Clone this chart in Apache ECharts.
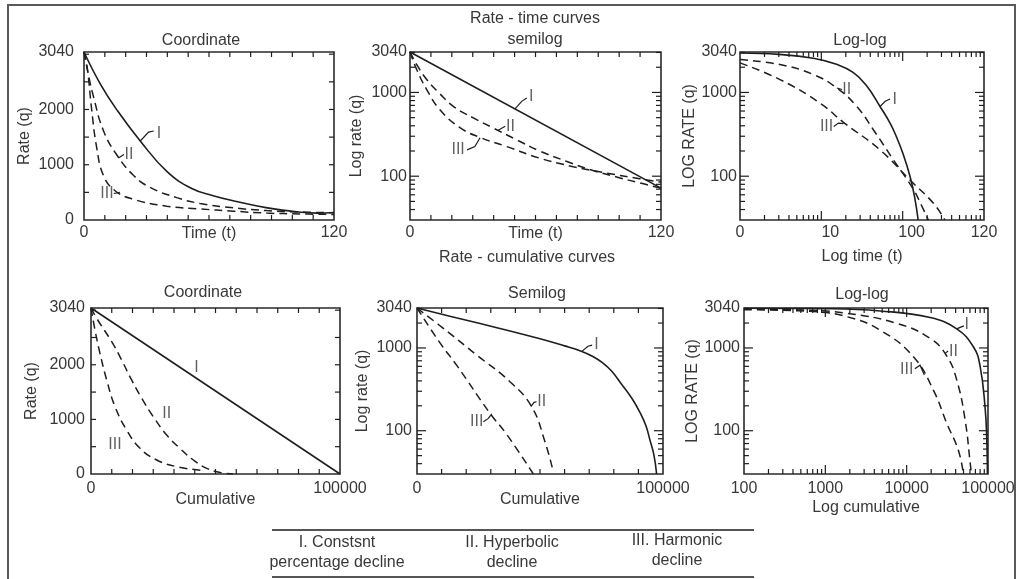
<!DOCTYPE html>
<html>
<head>
<meta charset="utf-8">
<script src="https://cdn.jsdelivr.net/npm/echarts@6/dist/echarts.min.js"></script>
<style>
  html, body { margin: 0; padding: 0; background: #fff; }
  #chart { width: 1024px; height: 579px; }
</style>
</head>
<body>
<div id="chart"></div>
<script>
// ---------- Rate - time curves: [time, rate] ----------
const rtCoordI   = [[0,3040],[8,2450],[16,1980],[27,1430],[40,870],[52,565],[62,440],[72,345],[88,220],[104,140],[112,125],[120,135]];
const rtCoordII  = [[0,3040],[2,2650],[4.5,2240],[9.3,1620],[15.7,1180],[23.7,810],[31.7,590],[44.5,405],[55.7,300],[71.7,220],[87.7,170],[104,145],[120,130]];
const rtCoordIII = [[0,3040],[1.6,2740],[3.7,1990],[6.1,1310],[9.3,810],[14.9,530],[23.7,375],[39.7,250],[55.7,200],[71.7,160],[87.7,125],[104,110],[120,100]];

const rtSemiI   = [[0,3040],[120,72]];
const rtSemiII  = [[0,3040],[3,2200],[8,1425],[14,980],[20.7,682],[30,500],[39.8,376],[50,280],[62,200],[75,150],[86,120],[100,96],[110,83],[120,72]];
const rtSemiIII = [[0,3040],[3.2,1877],[8,1081],[14.3,622],[23.9,380],[33.5,290],[46.2,226],[62.1,164],[78,130],[94,109],[107,96],[120,85]];

const rtLogI   = [[1,2960],[3,2850],[8,2560],[15,2180],[24.8,1720],[36,1200],[52.7,680],[70,430],[84.5,290],[100,190],[123,100],[140,57],[155,30]];
const rtLogII  = [[1,2470],[3.1,2150],[8,1633],[15.5,1131],[27.2,682],[43.6,359],[76.9,157],[135,70],[170,45],[207,30]];
const rtLogIII = [[1,2254],[3.1,1425],[9.6,748],[18.7,440],[52.7,206],[123,90],[239,47.5],[330,30]];

// ---------- Rate - cumulative curves: [cumulative, rate] ----------
const rcCoordI   = [[0,3040],[100000,0]];
const rcCoordII  = [[0,3040],[2290,2850],[8300,2423],[12300,2088],[16300,1722],[20400,1386],[25000,1050],[30400,714],[35700,470],[41100,256],[46500,104],[51800,30],[57000,0]];
const rcCoordIII = [[0,3040],[1600,2637],[3600,2210],[6300,1722],[9640,1233],[14300,806],[19700,470],[26400,256],[34400,134],[44000,70]];

const rcSemiI   = [[0,3040],[15900,2320],[33700,1720],[50000,1290],[60000,1060],[66500,920],[71500,790],[75500,660],[79000,530],[83000,370],[87400,245],[90650,166],[93100,114],[94700,77],[96300,51],[97400,30]];
const rcSemiII  = [[0,3040],[10700,1726],[24300,820],[37800,391],[46600,195],[52000,74],[55400,32]];
const rcSemiIII = [[0,3040],[9350,1150],[16100,620],[29700,162],[36500,90],[47300,30]];

const rcLogI   = [[100,3020],[1000,2980],[4710,2800],[19400,2330],[41300,1700],[66100,1033],[80000,600],[92100,190],[96500,80],[98400,30]];
const rcLogII  = [[100,2950],[500,2880],[1830,2620],[7550,1982],[19400,1306],[31100,800],[41300,409],[52300,135],[60200,42],[62500,30]];
const rcLogIII = [[100,2900],[713,2750],[1830,2390],[4710,1645],[12100,783],[21300,310],[31100,123],[43200,58],[49800,30]];

// ---------- curve tags [text, x, rate] and their leader strokes ----------
const tagsRtCoord = [['I',36,1560],['II',21.6,1180],['III',11,480]];
const leadRtCoord = [[[27,1430],[31,1590],[33.5,1610]],[[16.5,1120],[19.2,1185]],[[14.3,480],[17.2,500]]];
const tagsRtSemi  = [['I',58,900],['II',48,393],['III',23,206]];
const leadRtSemi  = [[[50.2,635],[53.4,783],[55.8,860]],[[42,352],[45.5,395]],[[27.3,206],[31,226],[33.5,288]]];
const tagsRtLog   = [['I',80,820],['II',20.5,1081],['III',11.6,393]];
const leadRtLog   = [[[52.7,680],[61,785],[70,836]],[[15.5,1131],[18,1085]],[[14.2,393],[16.2,431],[18.7,425]]];
const tagsRcCoord = [['I',42400,1954],['II',30400,1112],['III',9640,531]];
const leadRcCoord = [];
const tagsRcSemi  = [['I',73000,1084],['II',50700,224],['III',24300,128]];
const leadRcSemi  = [[[67000,910],[69500,1050],[71200,1080]],[[46300,195],[47600,220],[48600,224]],[[27000,128],[29000,141],[30400,160]]];
const tagsRcLog   = [['I',54800,1893],['II',37600,899],['III',10000,541]];
const leadRcLog   = [[[41300,1700],[47000,1800],[50500,1850]],[[29700,860],[32300,920]],[[12600,560],[14600,620],[16500,470]]];

// ---------- tick values ----------
const timeTicks      = [10,20,30,40,50,60,70,80,90,100,110];
const rateTicks      = [500,1000,1500,2000,2500,3000];
const logRateMinor   = [40,50,60,70,80,90,200,300,400,500,600,700,800,900,2000,3000];
const logRateMajor   = [100,1000];
const logTimeMinor   = [2,3,4,5,6,7,8,9,20,30,40,50,60,70,80,90,200,300,400,500,600,700,800,900];
const logTimeMajor   = [10,100];
const cumTicksCoord  = [8333,16667,25000,33333,41667,50000,58333,66667,75000,83333,91667];
const cumTicksSemi   = [10000,20000,30000,40000,50000,60000,70000,80000,90000];
const logCumMinor    = [200,300,400,500,600,700,800,900,2000,3000,4000,5000,6000,7000,8000,9000,20000,30000,40000,50000,60000,70000,80000,90000];
const logCumMajor    = [1000,10000];

// ---------- tick labels ----------
const rateLabelValues    = [0,1000,2000,3040];
const logRateLabelValues = [100,1000,3040];
const timeLabelValues    = [0,120];
const logTimeLabelValues = [1,10,100,1000];
const logTimeLabelTexts  = ['0','{r|10}','{r|100}','120'];
const cumLabelValues     = [0,100000];
const logCumLabelValues  = [100,1000,10000,100000];

// ---------- legend table ----------
const declineNames = ['I. Constsnt\npercentage decline','II. Hyperbolic\ndecline','III. Harmonic\ndecline'];

const FONT = "'Liberation Sans', Arial, sans-serif";
const INK = '#1e1e1e';
const TXT = '#383838';
const FS = 16;

function pickLabels(values, texts) {
  return function (v) {
    const i = values.findIndex(u => Math.abs(u - v) <= 1e-6 * Math.max(1, Math.abs(u)));
    if (i < 0) return '';
    return texts ? texts[i] : String(values[i]);
  };
}

const panels = [
  { grid: {left: 84, top: 52, width: 250, height: 168},
    x: {type: 'value', min: 0, max: 120, interval: 120, name: 'Time (t)', nameGap: 6, margin: 5, fmt: pickLabels(timeLabelValues)},
    y: {type: 'value', min: 0, max: 3040, interval: 1000, name: 'Rate (q)', nameGap: 51, margin: 10, fmt: pickLabels(rateLabelValues)},
    curves: [rtCoordI, rtCoordII, rtCoordIII], tags: tagsRtCoord, leads: leadRtCoord,
    xTicks: timeTicks, xMajor: [], yTicks: rateTicks, yMajor: [], xRef: 0, yRef: 0 },
  { grid: {left: 410, top: 52, width: 251, height: 168},
    x: {type: 'value', min: 0, max: 120, interval: 120, name: 'Time (t)', nameGap: 6, margin: 5, fmt: pickLabels(timeLabelValues)},
    y: {type: 'log', min: 30, max: 3040, name: 'Log rate (q)', nameGap: 45, margin: 3, fmt: pickLabels(logRateLabelValues)},
    curves: [rtSemiI, rtSemiII, rtSemiIII], tags: tagsRtSemi, leads: leadRtSemi,
    xTicks: timeTicks, xMajor: [], yTicks: logRateMinor, yMajor: logRateMajor, xRef: 0, yRef: 30 },
  { grid: {left: 740, top: 52, width: 244, height: 168},
    x: {type: 'log', min: 1, max: 1000, name: 'Log time (t)', nameGap: 29, margin: 5, fmt: pickLabels(logTimeLabelValues, logTimeLabelTexts)},
    y: {type: 'log', min: 30, max: 3040, name: 'LOG RATE (q)', nameGap: 42, margin: 3, fmt: pickLabels(logRateLabelValues)},
    curves: [rtLogI, rtLogII, rtLogIII], tags: tagsRtLog, leads: leadRtLog,
    xTicks: logTimeMinor, xMajor: logTimeMajor, yTicks: logRateMinor, yMajor: logRateMajor, xRef: 1, yRef: 30 },
  { grid: {left: 91, top: 308, width: 249, height: 166},
    x: {type: 'value', min: 0, max: 100000, interval: 100000, name: 'Cumulative', nameGap: 18, margin: 7, fmt: pickLabels(cumLabelValues)},
    y: {type: 'value', min: 0, max: 3040, interval: 1000, name: 'Rate (q)', nameGap: 51, margin: 6, fmt: pickLabels(rateLabelValues)},
    curves: [rcCoordI, rcCoordII, rcCoordIII], tags: tagsRcCoord, leads: leadRcCoord,
    xTicks: cumTicksCoord, xMajor: [], yTicks: rateTicks, yMajor: [], xRef: 0, yRef: 0 },
  { grid: {left: 417, top: 308, width: 246, height: 166},
    x: {type: 'value', min: 0, max: 100000, interval: 100000, name: 'Cumulative', nameGap: 18, margin: 7, fmt: pickLabels(cumLabelValues)},
    y: {type: 'log', min: 30, max: 3040, name: 'Log rate (q)', nameGap: 46, margin: 5, fmt: pickLabels(logRateLabelValues)},
    curves: [rcSemiI, rcSemiII, rcSemiIII], tags: tagsRcSemi, leads: leadRcSemi,
    xTicks: cumTicksSemi, xMajor: [], yTicks: logRateMinor, yMajor: logRateMajor, xRef: 0, yRef: 30 },
  { grid: {left: 744, top: 308, width: 244, height: 166},
    x: {type: 'log', min: 100, max: 100000, name: 'Log cumulative', nameGap: 26, margin: 7, fmt: pickLabels(logCumLabelValues)},
    y: {type: 'log', min: 30, max: 3040, name: 'LOG RATE (q)', nameGap: 43, margin: 4, fmt: pickLabels(logRateLabelValues)},
    curves: [rcLogI, rcLogII, rcLogIII], tags: tagsRcLog, leads: leadRcLog,
    xTicks: logCumMinor, xMajor: logCumMajor, yTicks: logRateMinor, yMajor: logRateMajor, xRef: 100, yRef: 30 }
];

const textStyle = {fontFamily: FONT, fontSize: FS, color: TXT};
const grids = [], xAxes = [], yAxes = [], series = [];

function axisCfg(a, i, isX) {
  const cfg = {
    type: a.type, gridIndex: i, min: a.min, max: a.max,
    name: a.name, nameLocation: 'middle', nameGap: a.nameGap, nameMoveOverlap: false,
    nameTextStyle: Object.assign({}, textStyle),
    axisLine: {show: false}, axisTick: {show: false}, splitLine: {show: false}, minorTick: {show: false},
    axisLabel: Object.assign({
      margin: a.margin, formatter: a.fmt, hideOverlap: false, showMinLabel: true, showMaxLabel: true,
      rich: {r: {fontFamily: FONT, fontSize: FS, color: TXT, padding: [0, 0, 0, 18]}}
    }, textStyle)
  };
  if (a.interval) cfg.interval = a.interval;
  if (a.type === 'log') cfg.logBase = 10;
  if (!isX) cfg.nameRotate = 90;
  return cfg;
}

const dashed = [8, 5];

panels.forEach((p, i) => {
  grids.push(Object.assign({show: true, borderColor: '#2a2a2a', borderWidth: 1.6, backgroundColor: 'transparent'}, p.grid));
  xAxes.push(axisCfg(p.x, i, true));
  yAxes.push(axisCfg(p.y, i, false));

  p.curves.forEach((c, k) => {
    series.push({
      type: 'line', xAxisIndex: i, yAxisIndex: i, data: c,
      showSymbol: false, symbol: 'none', smooth: c.length === 2 ? false : 0.45,
      lineStyle: {color: INK, width: k === 0 ? 1.6 : 1.5, type: k === 0 ? 'solid' : dashed},
      silent: true, z: 3
    });
  });

  if (p.leads.length) {
    series.push({
      type: 'lines', coordinateSystem: 'cartesian2d', xAxisIndex: i, yAxisIndex: i,
      polyline: true, silent: true, z: 4,
      lineStyle: {color: INK, width: 1.2, opacity: 1, curveness: 0},
      data: p.leads.map(l => ({coords: l}))
    });
  }

  series.push({
    type: 'scatter', xAxisIndex: i, yAxisIndex: i, symbolSize: 1, silent: true, z: 5,
    itemStyle: {color: 'rgba(0,0,0,0)'},
    data: p.tags.map(t => [t[1], t[2], t[0]]),
    label: Object.assign({show: true, position: 'inside', formatter: q => q.value[2]}, textStyle)
  });

  // inward ticks on all four sides of the plot frame
  const tickData = [];
  p.xTicks.forEach(v => tickData.push([v, p.yRef, 0, 0]));
  p.xMajor.forEach(v => tickData.push([v, p.yRef, 0, 1]));
  p.yTicks.forEach(v => tickData.push([p.xRef, v, 1, 0]));
  p.yMajor.forEach(v => tickData.push([p.xRef, v, 1, 1]));
  series.push({
    type: 'custom', xAxisIndex: i, yAxisIndex: i, silent: true, clip: false, z: 2,
    data: tickData, encode: {x: 0, y: 1},
    renderItem: function (params, api) {
      const cs = params.coordSys;
      const pt = api.coord([api.value(0), api.value(1)]);
      const len = api.value(3) ? 9 : 5;
      const style = {stroke: INK, lineWidth: 1.2};
      if (api.value(2) === 0) {
        const yb = cs.y + cs.height, yt = cs.y;
        return {type: 'group', children: [
          {type: 'line', shape: {x1: pt[0], y1: yb, x2: pt[0], y2: yb - len}, style: style},
          {type: 'line', shape: {x1: pt[0], y1: yt, x2: pt[0], y2: yt + len}, style: style}
        ]};
      }
      const xl = cs.x, xr = cs.x + cs.width;
      return {type: 'group', children: [
        {type: 'line', shape: {x1: xl, y1: pt[1], x2: xl + len, y2: pt[1]}, style: style},
        {type: 'line', shape: {x1: xr, y1: pt[1], x2: xr - len, y2: pt[1]}, style: style}
      ]};
    }
  });
});

function txt(text, x, y) {
  return {type: 'text', x: x, y: y, silent: true,
    style: {text: text, fill: TXT, font: FS + 'px ' + FONT, align: 'center', verticalAlign: 'middle', lineHeight: 20}};
}

const graphic = [
  {type: 'rect', shape: {x: 8, y: 5, width: 1007, height: 600}, style: {fill: 'none', stroke: '#5a5a5a', lineWidth: 2}, silent: true},
  txt('Rate - time curves', 535, 19),
  txt('semilog', 535, 40),
  txt('Coordinate', 201, 41),
  txt('Log-log', 860, 41),
  txt('Rate - cumulative curves', 527, 258),
  txt('Coordinate', 203, 293),
  txt('Semilog', 537, 294),
  txt('Log-log', 862, 295),
  {type: 'line', shape: {x1: 272, y1: 530, x2: 754, y2: 530}, style: {stroke: '#555', lineWidth: 2}, silent: true},
  {type: 'line', shape: {x1: 272, y1: 577, x2: 754, y2: 577}, style: {stroke: '#555', lineWidth: 2}, silent: true},
  txt(declineNames[0], 337, 553),
  txt(declineNames[1], 512, 553),
  txt(declineNames[2], 677, 551)
];

const chart = echarts.init(document.getElementById('chart'), null, {renderer: 'canvas'});
chart.setOption({
  animation: false,
  backgroundColor: '#fff',
  grid: grids, xAxis: xAxes, yAxis: yAxes, series: series, graphic: graphic
});
</script>
</body>
</html>
